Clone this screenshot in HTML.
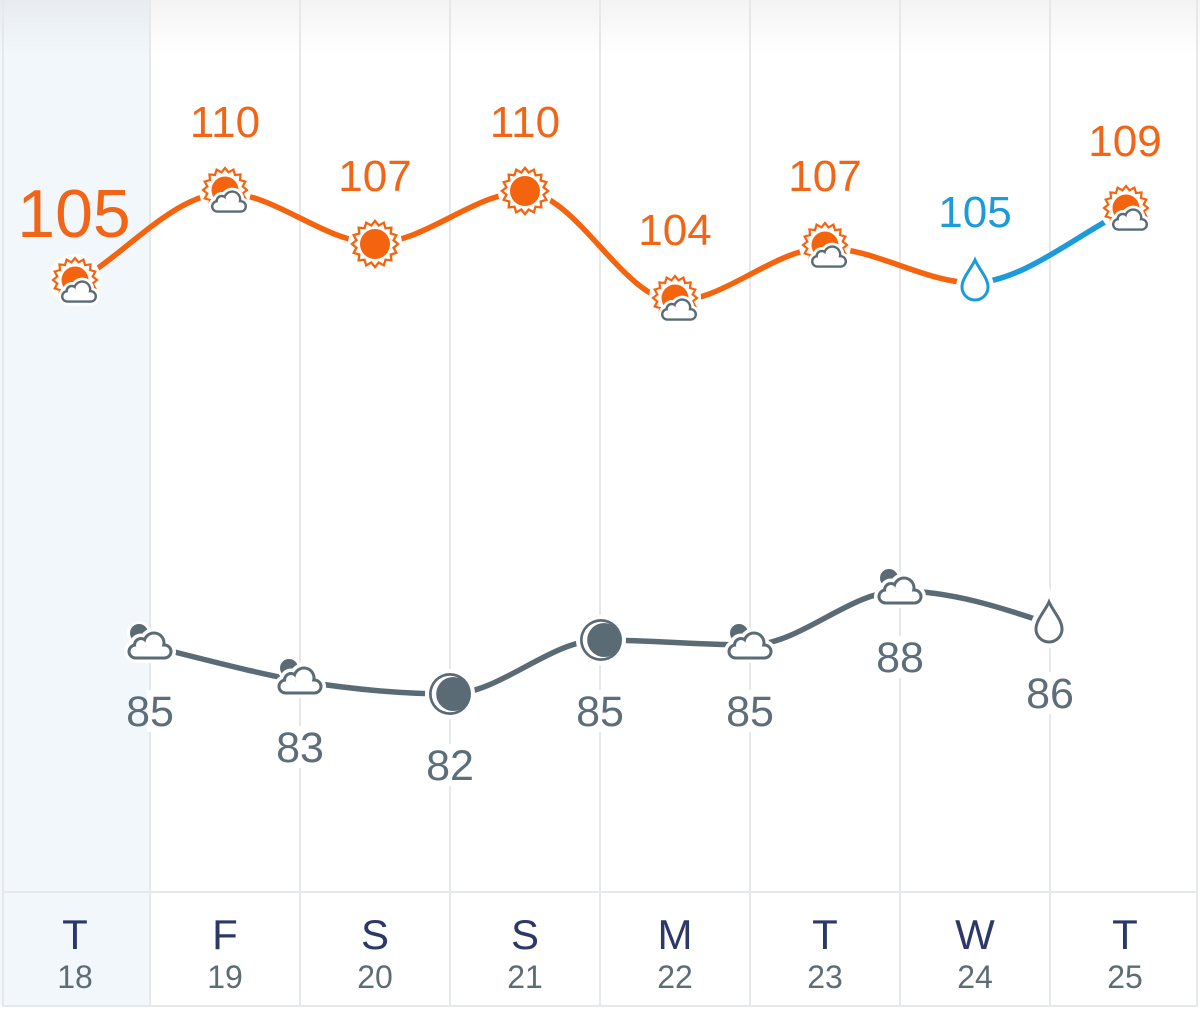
<!DOCTYPE html>
<html>
<head>
<meta charset="utf-8">
<style>
  html,body{margin:0;padding:0;background:#fff;}
  svg{display:block;}
  text{font-family:"Liberation Sans",Arial,sans-serif;}
</style>
</head>
<body>
<svg width="1200" height="1009" viewBox="0 0 1200 1009" xmlns="http://www.w3.org/2000/svg">
  <defs>
    <linearGradient id="tg" x1="0" y1="0" x2="0" y2="1">
      <stop offset="0" stop-color="#000" stop-opacity="0.045"/>
      <stop offset="1" stop-color="#000" stop-opacity="0"/>
    </linearGradient>
    <polygon id="star" points="22,0 17.65,3.51 20.33,8.42 14.97,10 15.56,15.56 10,14.97 8.42,20.33 3.51,17.65 0,22 -3.51,17.65 -8.42,20.33 -10,14.97 -15.56,15.56 -14.97,10 -20.33,8.42 -17.65,3.51 -22,0 -17.65,-3.51 -20.33,-8.42 -14.97,-10 -15.56,-15.56 -10,-14.97 -8.42,-20.33 -3.51,-17.65 0,-22 3.51,-17.65 8.42,-20.33 10,-14.97 15.56,-15.56 14.97,-10 20.33,-8.42 17.65,-3.51"/>
    <g id="cloud">
      <g fill="#5b6b75">
        <rect x="-22.5" y="-2.5" width="45" height="16" rx="8"/>
        <circle cx="4" cy="-3" r="11.5"/>
        <circle cx="-9" cy="-1" r="8"/>
      </g>
      <g fill="#fff">
        <rect x="-19.5" y="0.5" width="39" height="10" rx="5"/>
        <circle cx="4" cy="-3" r="8.5"/>
        <circle cx="-9" cy="-1" r="5"/>
      </g>
    </g>
    <g id="cloudHalo" fill="#fff">
      <rect x="-26" y="-6" width="52" height="23" rx="11.5"/>
      <circle cx="4" cy="-3" r="15"/>
      <circle cx="-9" cy="-1" r="11.5"/>
    </g>
    <g id="sunCloud">
      <circle r="26" fill="#fff"/>
      <use href="#star" fill="#fff" stroke="#f4640f" stroke-width="2.2" stroke-linejoin="miter"/>
      <circle r="13.5" fill="#f4640f"/>
      <g transform="translate(4,12) scale(0.8)">
        <use href="#cloudHalo"/>
        <use href="#cloud"/>
      </g>
    </g>
    <g id="sun">
      <circle r="27" fill="#fff"/>
      <use href="#star" transform="scale(1.05)" fill="#fff" stroke="#f4640f" stroke-width="2.2" stroke-linejoin="miter"/>
      <circle r="15" fill="#f4640f"/>
    </g>
    <g id="moonCloud">
      <circle cx="-11" cy="-13" r="12" fill="#fff"/>
      <circle cx="-11" cy="-13" r="9" fill="#5b6b75"/>
      <use href="#cloudHalo"/>
      <use href="#cloud"/>
    </g>
    <g id="moon">
      <circle r="25" fill="#fff"/>
      <circle r="21" fill="#5b6b75"/>
      <circle r="18.3" fill="#fff"/>
      <circle cx="3.2" r="17" fill="#5b6b75"/>
    </g>
    <path id="drop" d="M0,-21 C4,-12 13,-3 13,6 A13,13 0 0 1 -13,6 C-13,-3 -4,-12 0,-21 Z"/>
  </defs>

  <rect x="0" y="0" width="1200" height="1009" fill="#fff"/>
  <rect x="0" y="0" width="150" height="1006" fill="#f2f7fc"/>
  <rect x="0" y="0" width="1200" height="55" fill="url(#tg)"/>

  <g stroke="#e6e9ec" stroke-width="2">
    <line x1="3" y1="0" x2="3" y2="1006"/>
    <line x1="150" y1="0" x2="150" y2="1006"/>
    <line x1="300" y1="0" x2="300" y2="1006"/>
    <line x1="450" y1="0" x2="450" y2="1006"/>
    <line x1="600" y1="0" x2="600" y2="1006"/>
    <line x1="750" y1="0" x2="750" y2="1006"/>
    <line x1="900" y1="0" x2="900" y2="1006"/>
    <line x1="1050" y1="0" x2="1050" y2="1006"/>
    <line x1="1197" y1="0" x2="1197" y2="1006"/>
    <line x1="2" y1="892" x2="1198" y2="892"/>
    <line x1="2" y1="1006" x2="1198" y2="1006"/>
  </g>

  <path d="M75,283 C125,255 175,193 225,193 C275,193 325,243 375,243 C425,243 475,192 525,192 C575,192 625,301 675,301 C725,301 775,248 825,248 C875,248 925,283 975,283" fill="none" stroke="#f4640f" stroke-width="5.5" stroke-linecap="round"/>
  <path d="M975,283 C1025,280 1075,236 1125,211" fill="none" stroke="#1c9bdb" stroke-width="5.5" stroke-linecap="round"/>

  <path d="M150,646 C200,658 250,672 300,681 C350,689 400,694 450,694 C500,694 550,640 600,640 C650,640 700,645 750,645 C800,645 850,591 900,591 C950,591 1000,607 1050,624" fill="none" stroke="#5b6b75" stroke-width="5.5" stroke-linecap="round"/>

  <use href="#sunCloud" x="75" y="280"/>
  <use href="#sunCloud" x="225" y="190"/>
  <use href="#sun" x="375" y="244"/>
  <use href="#sun" x="525" y="191"/>
  <use href="#sunCloud" x="675" y="298"/>
  <use href="#sunCloud" x="825" y="245"/>
  <g transform="translate(975,281)">
    <use href="#drop" fill="#fff" stroke="#fff" stroke-width="12"/>
    <use href="#drop" fill="#fff" stroke="#1c9bdb" stroke-width="3"/>
  </g>
  <use href="#sunCloud" x="1126" y="208"/>

  <use href="#moonCloud" x="150" y="646"/>
  <use href="#moonCloud" x="300" y="681"/>
  <use href="#moon" x="450" y="694"/>
  <use href="#moon" x="601" y="640"/>
  <use href="#moonCloud" x="750" y="646"/>
  <use href="#moonCloud" x="900" y="591"/>
  <g transform="translate(1049,623)">
    <use href="#drop" fill="#fff" stroke="#fff" stroke-width="12"/>
    <use href="#drop" fill="#fff" stroke="#5b6b75" stroke-width="3"/>
  </g>

  <g fill="#fff">
    <rect x="147" y="690" width="6" height="42"/>
    <rect x="297" y="726" width="6" height="42"/>
    <rect x="447" y="744" width="6" height="42"/>
    <rect x="597" y="690" width="6" height="42"/>
    <rect x="747" y="690" width="6" height="42"/>
    <rect x="897" y="636" width="6" height="42"/>
    <rect x="1047" y="672" width="6" height="42"/>
  </g>

  <g fill="#f26516" font-size="44" text-anchor="middle">
    <text x="74" y="237" font-size="68">105</text>
    <text x="225" y="137">110</text>
    <text x="375" y="191">107</text>
    <text x="525" y="137">110</text>
    <text x="675" y="245">104</text>
    <text x="825" y="191">107</text>
    <text x="975" y="227" fill="#1c9bdb">105</text>
    <text x="1125" y="156">109</text>
  </g>

  <g fill="#5e6e78" font-size="43" text-anchor="middle">
    <text x="150" y="726">85</text>
    <text x="300" y="762">83</text>
    <text x="450" y="780">82</text>
    <text x="600" y="726">85</text>
    <text x="750" y="726">85</text>
    <text x="900" y="672">88</text>
    <text x="1050" y="708">86</text>
  </g>

  <g fill="#2c3868" font-size="42" text-anchor="middle">
    <text x="75" y="949">T</text>
    <text x="225" y="949">F</text>
    <text x="375" y="949">S</text>
    <text x="525" y="949">S</text>
    <text x="675" y="949">M</text>
    <text x="825" y="949">T</text>
    <text x="975" y="949">W</text>
    <text x="1125" y="949">T</text>
  </g>
  <g fill="#5e6c74" font-size="32" text-anchor="middle">
    <text x="75" y="988">18</text>
    <text x="225" y="988">19</text>
    <text x="375" y="988">20</text>
    <text x="525" y="988">21</text>
    <text x="675" y="988">22</text>
    <text x="825" y="988">23</text>
    <text x="975" y="988">24</text>
    <text x="1125" y="988">25</text>
  </g>
</svg>
</body>
</html>
